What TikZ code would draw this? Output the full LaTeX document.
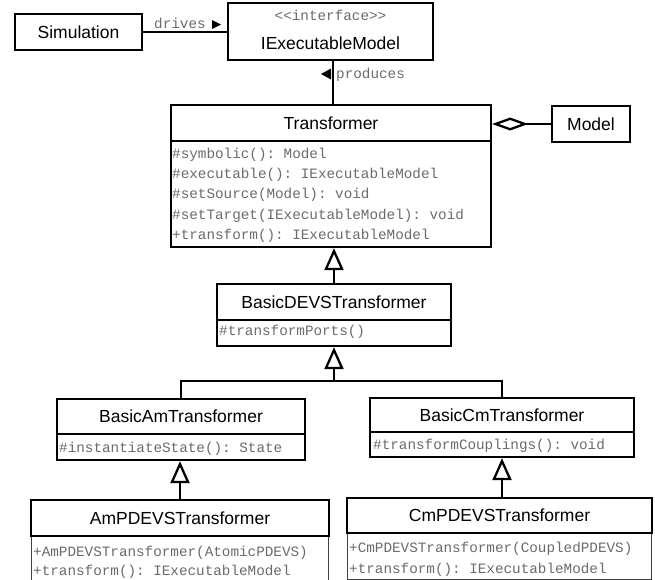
\documentclass[tikz,border=0pt]{standalone}
\usepackage{fontspec}
\setsansfont{Liberation Sans}
\setmonofont{Liberation Mono}
\usetikzlibrary{arrows.meta}
\definecolor{membergray}{gray}{0.42}

\tikzset{
  box/.style={draw, line width=2.3pt, inner sep=0pt, fill=white},
  thinbox/.style={draw=black!75, line width=1pt, inner sep=0pt, fill=white},
  title/.style={font=\sffamily\fontsize{17.5}{20}\selectfont, text height=12.6pt, text depth=0pt},
  member/.style={font=\ttfamily\fontsize{14.3}{18}\selectfont, text=membergray, anchor=west,
                 inner sep=0pt, text height=10.5pt, text depth=3pt},
  link/.style={line width=2.3pt},
  inherit/.style={link, -{Triangle[open, length=22pt, width=19pt]}},
  aggr/.style={link, {Diamond[open, length=36pt, width=13pt]}-},
}

\begin{document}
\begin{tikzpicture}[x=1pt, y=-1pt]
  \useasboundingbox (0,0) rectangle (655,579);
  \clip (0,0) rectangle (655,579);

  % Simulation and the executable interface
  \node[box, title, minimum width=127pt, minimum height=36pt] (sim) at (78.5,32) {Simulation};
  \node[box, minimum width=205pt, minimum height=57pt] (iem) at (330.5,31.5) {};
  \node[member, anchor=center] (iemS) at (330.5,17) {<<interface>>};
  \node[title, inner sep=0pt] (iemT) at (330.5,43) {IExecutableModel};

  % Transformer
  \node[box, title, minimum width=320pt, minimum height=36pt] (trH) at (331,123) {Transformer};
  \node[box, minimum width=320pt, minimum height=106pt] (trB) at (331,194) {};
  \node[member] (trM1) at (172,155) {\#symbolic(): Model};
  \node[member] (trM2) at (172,175) {\#executable(): IExecutableModel};
  \node[member] (trM3) at (172,195) {\#setSource(Model): void};
  \node[member] (trM4) at (172,215.5) {\#setTarget(IExecutableModel): void};
  \node[member] (trM5) at (172,236) {+transform(): IExecutableModel};

  % Model
  \node[box, title, minimum width=78pt, minimum height=36pt] (mdl) at (591,124) {Model};

  % BasicDEVSTransformer
  \node[box, title, minimum width=234pt, minimum height=36pt] (bdH) at (334,302) {BasicDEVSTransformer};
  \node[box, minimum width=234pt, minimum height=26pt] (bdB) at (334,333) {};
  \node[member] (bdM1) at (219,332) {\#transformPorts()};

  % BasicAmTransformer
  \node[box, title, minimum width=248pt, minimum height=35pt] (baH) at (181,416.5) {BasicAmTransformer};
  \node[box, minimum width=248pt, minimum height=26pt] (baB) at (181,447) {};
  \node[member] (baM1) at (59,448.5) {\#instantiateState(): State};

  % BasicCmTransformer
  \node[box, title, minimum width=264pt, minimum height=34pt] (bcH) at (502,415) {BasicCmTransformer};
  \node[box, minimum width=264pt, minimum height=25pt] (bcB) at (502,444.5) {};
  \node[member] (bcM1) at (373,445.5) {\#transformCouplings(): void};

  % AmPDEVSTransformer
  \node[thinbox, minimum width=297pt, minimum height=44pt] (apB) at (180,558) {};
  \node[box, title, minimum width=298pt, minimum height=36pt] (apH) at (180,518) {AmPDEVSTransformer};
  \node[member] (apM1) at (33,553) {+AmPDEVSTransformer(AtomicPDEVS)};
  \node[member] (apM2) at (33,571.5) {+transform(): IExecutableModel};

  % CmPDEVSTransformer
  \node[thinbox, minimum width=304pt, minimum height=46pt] (cpB) at (499.5,556) {};
  \node[box, title, minimum width=305pt, minimum height=35pt] (cpH) at (499.5,515.5) {CmPDEVSTransformer};
  \node[member] (cpM1) at (349,549) {+CmPDEVSTransformer(CoupledPDEVS)};
  \node[member] (cpM2) at (349,569.5) {+transform(): IExecutableModel};

  % Associations
  \draw[link] (sim.east) -- (sim.east -| iem.west);
  \node[member] (drv) at (154,25) {drives};
  \fill (212,20) -- (221,24.5) -- (212,29) -- cycle;

  \coordinate (prodtop) at (333,60);
  \draw[link] (prodtop |- iem.south) -- (prodtop |- trH.north);
  \node[member] (prd) at (336,74.5) {produces};
  \fill (331,68.5) -- (321,74) -- (331,79.5) -- cycle;

  \draw[aggr] (trH.east |- mdl.west) -- (mdl.west);

  % Generalisations
  \draw[inherit] (bdH.north) -- (bdH.north |- trB.south);
  \coordinate (fork) at (334,381);
  \draw[inherit] (fork) -- (bdB.south);
  \draw[link] (baH.north) |- (fork) -| (bcH.north);
  \draw[inherit] (apH.north) -- (apH.north |- baB.south);
  \draw[inherit] (cpH.north -| bcB.south) -- (bcB.south);
\end{tikzpicture}
\end{document}
